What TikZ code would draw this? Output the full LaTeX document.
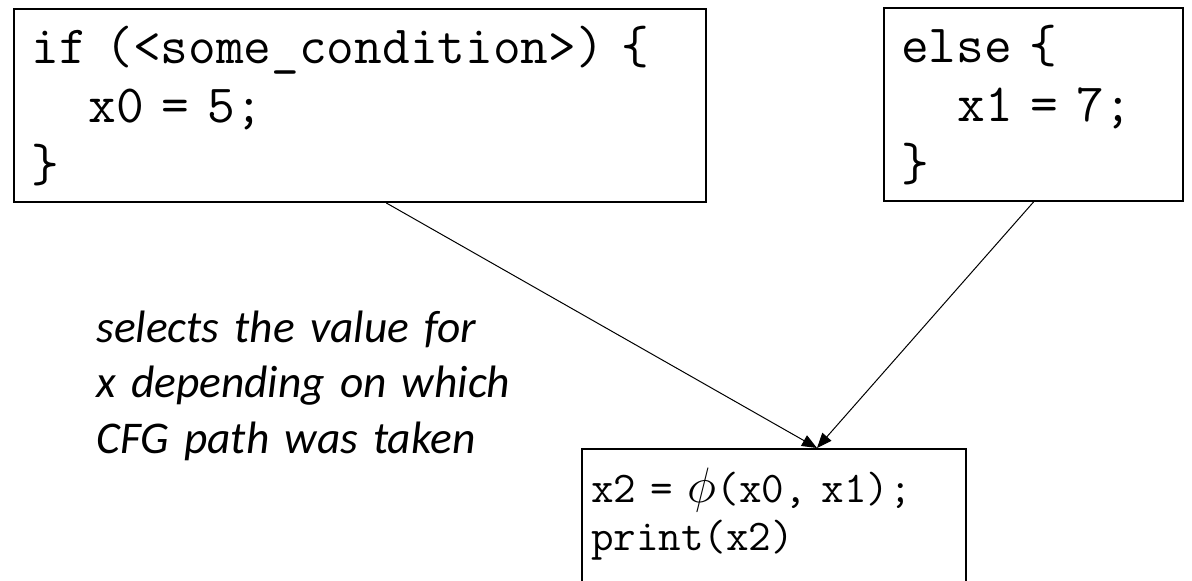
\documentclass[tikz,border=0pt]{standalone}
\usepackage{fontspec}
\usepackage{amsmath}
\usetikzlibrary{arrows.meta,positioning,calc}
\newfontfamily\notefont{Carlito}
\frenchspacing
\tikzset{
  codebox/.style={draw,line width=1pt,anchor=base west,align=left,inner ysep=0pt},
  bigcode/.style={font=\ttfamily\fontsize{26.9}{29.5}\selectfont,text height=27pt,text depth=69.5pt},
  flow/.style={-{Triangle[length=7.5pt,width=6pt]},line width=0.5pt}
}
\begin{document}
\begin{tikzpicture}[x=0.5pt,y=-0.5pt]
\clip (0,0) rectangle (1192,580);
% the two branches
\node[codebox,bigcode,inner xsep=9pt,text width=328pt] (ifblk) at (13,63)
  {if (<some\_condition>) \{\\\hspace*{1.05em}x0 = 5;\\\}};
\node[codebox,bigcode,inner xsep=8.5pt,text width=132.5pt] (elseblk) at (883,62)
  {else \{\\\hspace*{1.05em}x1 = 7;\\\}};
% join block, runs off the bottom
\node[codebox,font=\ttfamily\fontsize{21.9}{24}\selectfont,inner xsep=4.5pt,
  text width=183pt,text height=26.5pt,text depth=50pt] (phiblk) at (581,502)
  {x2 = {\fontsize{25}{25}\selectfont$\phi$}(x0, x1);\\print(x2)};
\coordinate (ifout) at ($(ifblk.south west)!0.538!(ifblk.south east)$);
\coordinate (merge) at ($(phiblk.north west)+(236,0)$);
\draw[flow] (ifout) -- (merge);
\draw[flow] (elseblk.south) -- (merge);
% note
\node[anchor=base west,align=left,inner sep=0pt,text width=230pt,
  font=\notefont\itshape\fontsize{22.7}{27.8}\selectfont] (note) at (96,342)
  {selects the value for\\x depending on which\\CFG path was taken};
\end{tikzpicture}
\end{document}
